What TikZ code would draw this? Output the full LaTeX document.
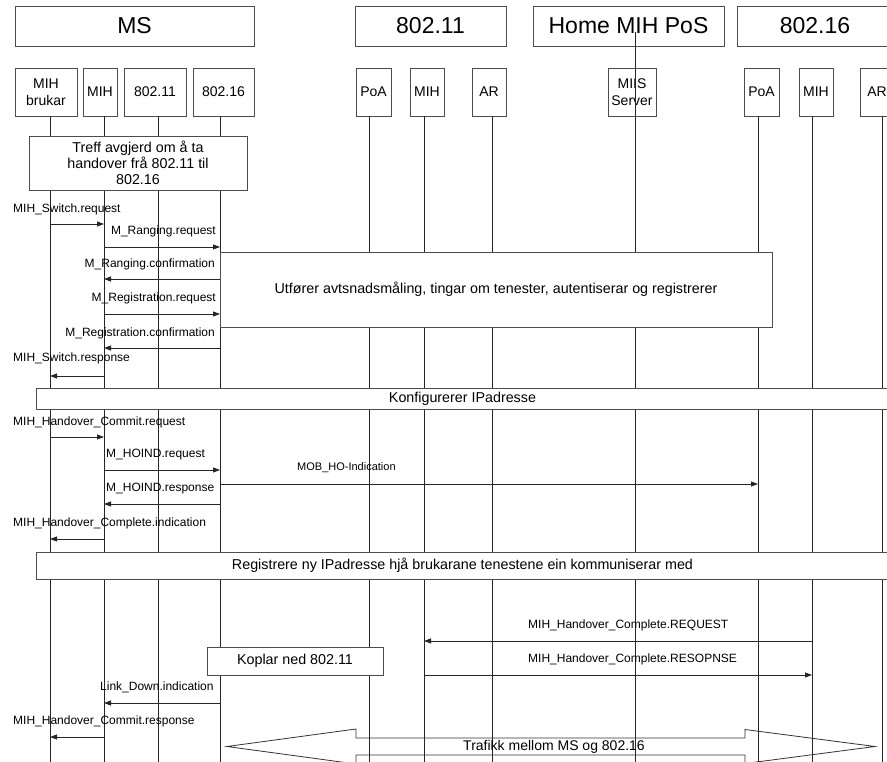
\documentclass[tikz,border=0pt]{standalone}
\usepackage{fontspec}
\setmainfont{Liberation Sans}
\usetikzlibrary{arrows.meta}
\begin{document}
\begin{tikzpicture}[x=1pt,y=-1pt,
  box/.style={draw=black!70, fill=white, line width=0.8pt, inner sep=0pt, align=center},
  head/.style={box, minimum height=40pt, font=\fontsize{23}{26}\selectfont},
  part/.style={box, minimum height=48pt, font=\fontsize{14}{17}\selectfont},
  note/.style={box, font=\fontsize{14.3}{16}\selectfont},
  life/.style={draw=black!85, line width=0.8pt},
  msg/.style={draw=black!85, line width=0.8pt, -{Triangle[length=7pt,width=5pt]}},
  lbl/.style={inner sep=0pt, font=\fontsize{12}{14}\selectfont},
  slbl/.style={inner sep=0pt, font=\fontsize{11}{13}\selectfont},
  bigarrow/.style={draw=black!80, line width=0.8pt}]
\useasboundingbox (0,0) rectangle (887,762);
\fill[white] (0,0) rectangle (887,762);

% group headers
\node[head, minimum width=239pt] (hms)   at (134.5,26) {MS};
\node[head, minimum width=151pt] (h11)   at (430.5,26) {802.11};
\node[head, minimum width=191pt] (hhome) at (628.5,26) {Home MIH PoS};
\node[head, minimum width=156pt] (h16)   at (815,26)   {802.16};

% participants
\node[part, minimum width=62pt] (pmb)   at (46,92)    {MIH\\brukar};
\node[part, minimum width=34pt] (pmih)  at (100,92)   {MIH};
\node[part, minimum width=62pt] (pa)    at (155,92)   {802.11};
\node[part, minimum width=61pt] (pb)    at (223.5,92) {802.16};
\node[part, minimum width=35pt] (poa1)  at (373.5,92) {PoA};
\node[part, minimum width=34pt] (mih1)  at (427,92)   {MIH};
\node[part, minimum width=34pt] (ar1)   at (489,92)   {AR};
\node[part, minimum width=48pt] (miis)  at (632,92)   {MIIS\\Server};
\node[part, minimum width=35pt] (poa2)  at (761.5,92) {PoA};
\node[part, minimum width=34pt] (mih2)  at (816,92)   {MIH};
\node[part, minimum width=34pt] (ar2)   at (877,92)   {AR};

% lifelines
\coordinate (l1) at (50,116);
\coordinate (l2) at (104,116);
\coordinate (l3) at (158,116);
\coordinate (l4) at (220,116);
\coordinate (l5) at (369,116);
\coordinate (l6) at (424,116);
\coordinate (l7) at (492,116);
\coordinate (l8) at (635,32);
\coordinate (l9) at (758,116);
\coordinate (l10) at (812,116);
\coordinate (l11) at (882,116);
\coordinate (bot) at (0,762);
\foreach \l in {l1,l2,l3,l4,l5,l6,l7,l8,l9,l10,l11}
  \draw[life] (\l) -- (\l |- bot);

% activity boxes
\node[note, minimum width=218pt, minimum height=54pt] (treff) at (138,163)
  {Treff avgjerd om å ta\\handover frå 802.11 til\\802.16};
\node[note, minimum width=552pt, minimum height=75pt] (utf) at (496,289.5)
  {Utfører avtsnadsmåling, tingar om tenester, autentiserar og registrerer};
\node[note, minimum width=853pt, minimum height=21pt] (konf) at (462.5,398.5)
  {Konfigurerer IPadresse};
\node[note, minimum width=853pt, minimum height=27pt] (reg) at (462.5,565.5)
  {Registrere ny IPadresse hjå brukarane tenestene ein kommuniserar med};
\node[note, minimum width=176pt, minimum height=28pt] (kop) at (295,661)
  {Koplar ned 802.11};

% messages
\draw[msg] (l1 |- 0,224) -- (l2 |- 0,224);
\node[lbl, anchor=west] (t1) at (13,209) {MIH\_Switch.request};
\draw[msg] (l2 |- 0,247) -- (l4 |- 0,247);
\node[lbl, anchor=east] (t2) at (216,231) {M\_Ranging.request};
\draw[msg] (l4 |- 0,279) -- (l2 |- 0,279);
\node[lbl, anchor=east] (t3) at (215,264) {M\_Ranging.confirmation};
\draw[msg] (l2 |- 0,314) -- (l4 |- 0,314);
\node[lbl, anchor=east] (t4) at (216,298) {M\_Registration.request};
\draw[msg] (l4 |- 0,348) -- (l2 |- 0,348);
\node[lbl, anchor=east] (t5) at (215,333) {M\_Registration.confirmation};
\draw[msg] (l2 |- 0,376) -- (l1 |- 0,376);
\node[lbl, anchor=west] (t6) at (13,358) {MIH\_Switch.response};

\draw[msg] (l1 |- 0,437) -- (l2 |- 0,437);
\node[lbl, anchor=west] (t7) at (13,422) {MIH\_Handover\_Commit.request};
\draw[msg] (l2 |- 0,470) -- (l4 |- 0,470);
\node[lbl, anchor=west] (t8) at (106,455) {M\_HOIND.request};
\draw[msg] (l4 |- 0,484) -- (l9 |- 0,484);
\node[slbl, anchor=west] (t9) at (297,468) {MOB\_HO-Indication};
\draw[msg] (l4 |- 0,504) -- (l2 |- 0,504);
\node[lbl, anchor=west] (t10) at (106,489) {M\_HOIND.response};
\draw[msg] (l2 |- 0,539) -- (l1 |- 0,539);
\node[lbl, anchor=west] (t11) at (13,523) {MIH\_Handover\_Complete.indication};

\draw[msg] (l10 |- 0,641) -- (l6 |- 0,641);
\node[lbl, anchor=west] (t12) at (528,625) {MIH\_Handover\_Complete.REQUEST};
\draw[msg] (l6 |- 0,675) -- (l10 |- 0,675);
\node[lbl, anchor=west] (t13) at (528,659) {MIH\_Handover\_Complete.RESOPNSE};
\draw[msg] (l4 |- 0,703) -- (l2 |- 0,703);
\node[lbl, anchor=west] (t14) at (100,687) {Link\_Down.indication};
\draw[msg] (l2 |- 0,737) -- (l1 |- 0,737);
\node[lbl, anchor=west] (t15) at (13,721) {MIH\_Handover\_Commit.response};

% two-way traffic arrow
\draw[bigarrow] (227,746.5) -- (356,729) -- (356,738) -- (745,738) -- (745,729.5)
  -- (875,746.5) -- (745,763.5) -- (745,755) -- (356,755) -- (356,764) -- cycle;
\node[inner sep=0pt, font=\fontsize{14}{16}\selectfont] (traffic) at (554,746.5)
  {Trafikk mellom MS og 802.16};
\end{tikzpicture}
\end{document}
